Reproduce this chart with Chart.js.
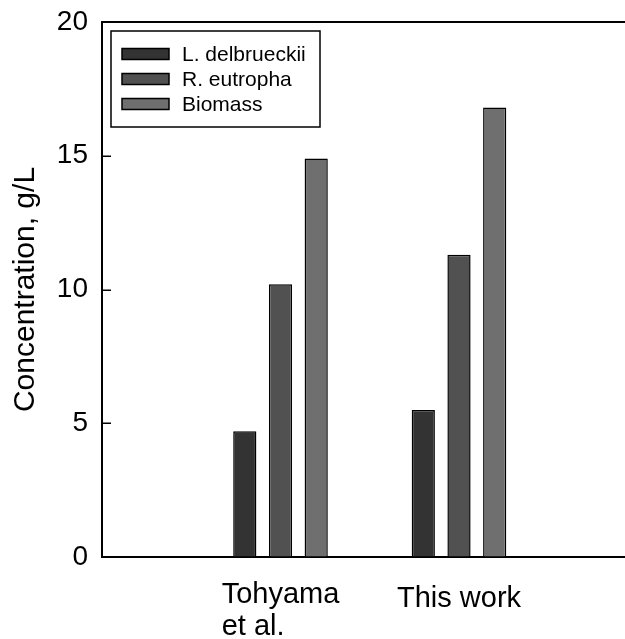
<!DOCTYPE html>
<html>
<head>
<meta charset="utf-8">
<script src="https://cdn.jsdelivr.net/npm/chart.js@4/dist/chart.umd.min.js"></script>
<style>
  html, body { margin: 0; padding: 0; background: #fff; overflow: hidden; }
  #wrap { width: 625px; height: 639px; position: relative; }
</style>
</head>
<body>
<div id="wrap"><canvas id="c"></canvas></div>
<script>
// Concentrations (g/L) for each study
const categories = [['Tohyama', 'et al.'], ['This work']];
const seriesNames = ['L. delbrueckii', 'R. eutropha', 'Biomass'];
const lDelbrueckii = [4.7, 5.5];
const rEutropha = [10.2, 11.3];
const biomass = [14.9, 16.8];
const yTicks = [0, 5, 10, 15, 20];
const seriesColors = ['#333333', '#515151', '#6f6f6f'];

const FONT = '"Liberation Sans", Arial, Helvetica, sans-serif';
const seriesValues = [lDelbrueckii, rEutropha, biomass];

const datasets = seriesNames.map((name, s) => ({
  label: name,
  data: seriesValues[s].map((v, i) => ({ x: i + 1, y: v })),
  backgroundColor: seriesColors[s],
  borderColor: '#000',
  borderWidth: 1.5,
  categoryPercentage: 0.6,
  barPercentage: 0.65
}));

// Frame top line, inward tick marks, study labels and the boxed legend
const decorations = {
  id: 'decorations',
  afterDraw(chart) {
    const { ctx, chartArea: area, scales } = chart;
    const xs = scales.x, ys = scales.y;
    ctx.save();
    ctx.strokeStyle = '#000';

    // top edge of the frame
    ctx.lineWidth = 2;
    ctx.beginPath();
    ctx.moveTo(area.left - 1, area.top);
    ctx.lineTo(area.right, area.top);
    ctx.stroke();

    // inward ticks on the y axis
    ctx.lineWidth = 1.5;
    yTicks.forEach(v => {
      if (v === ys.min || v === ys.max) return;
      const y = Math.round(ys.getPixelForValue(v)) + 0.25;
      ctx.beginPath();
      ctx.moveTo(area.left, y);
      ctx.lineTo(area.left + 9, y);
      ctx.stroke();
    });

    // study labels below the axis, lines left-aligned under the first line
    ctx.fillStyle = '#000';
    ctx.font = '29px ' + FONT;
    ctx.textAlign = 'left';
    ctx.textBaseline = 'alphabetic';
    categories.forEach((lines, i) => {
      const cx = xs.getPixelForValue(i + 1);
      const w = ctx.measureText(lines[0]).width;
      const x0 = cx - w / 2;
      const base = area.bottom + (lines.length > 1 ? 46 : 50);
      lines.forEach((t, k) => ctx.fillText(t, x0, base + k * 32));
    });

    // legend box
    const bx = area.left + 9, by = area.top + 9, bw = 209, bh = 96;
    ctx.fillStyle = '#fff';
    ctx.fillRect(bx, by, bw, bh);
    ctx.lineWidth = 1.5;
    ctx.strokeRect(bx, by, bw, bh);
    ctx.font = '21px ' + FONT;
    ctx.textBaseline = 'middle';
    chart.data.datasets.forEach((ds, k) => {
      const cy = by + 23 + k * 25;
      ctx.fillStyle = ds.backgroundColor;
      ctx.fillRect(bx + 11, cy - 5.5, 47, 11);
      ctx.strokeRect(bx + 11, cy - 5.5, 47, 11);
      ctx.fillStyle = '#000';
      ctx.fillText(ds.label, bx + 71, cy + 1);
    });
    ctx.restore();
  }
};

new Chart(document.getElementById('c'), {
  type: 'bar',
  data: { datasets },
  options: {
    responsive: true,
    maintainAspectRatio: false,
    animation: false,
    layout: { padding: { top: 22, bottom: 82, left: 0, right: 0 } },
    plugins: {
      legend: { display: false },
      tooltip: { enabled: false }
    },
    scales: {
      x: {
        type: 'linear',
        offset: false,
        min: 0,
        max: 2.93,
        afterBuildTicks: s => { s.ticks = categories.map((_, i) => ({ value: i + 1 })); },
        ticks: { display: false },
        grid: { display: true, offset: false, drawOnChartArea: false, drawTicks: false },
        border: { display: true, width: 2, color: '#000' }
      },
      y: {
        min: 0,
        max: 20,
        afterBuildTicks: s => { s.ticks = yTicks.map(v => ({ value: v })); },
        afterFit: s => { s.width = 102; s.paddingTop = 0; s.paddingBottom = 0; },
        ticks: {
          color: '#000',
          padding: 14,
          font: { family: FONT, size: 28 }
        },
        grid: { display: true, drawOnChartArea: false, drawTicks: false },
        border: { display: true, width: 2, color: '#000' },
        title: {
          display: true,
          text: 'Concentration, g/L',
          color: '#000',
          font: { family: FONT, size: 30 },
          padding: { top: 8, bottom: 0 }
        }
      }
    }
  },
  plugins: [decorations]
});
</script>
</body>
</html>
